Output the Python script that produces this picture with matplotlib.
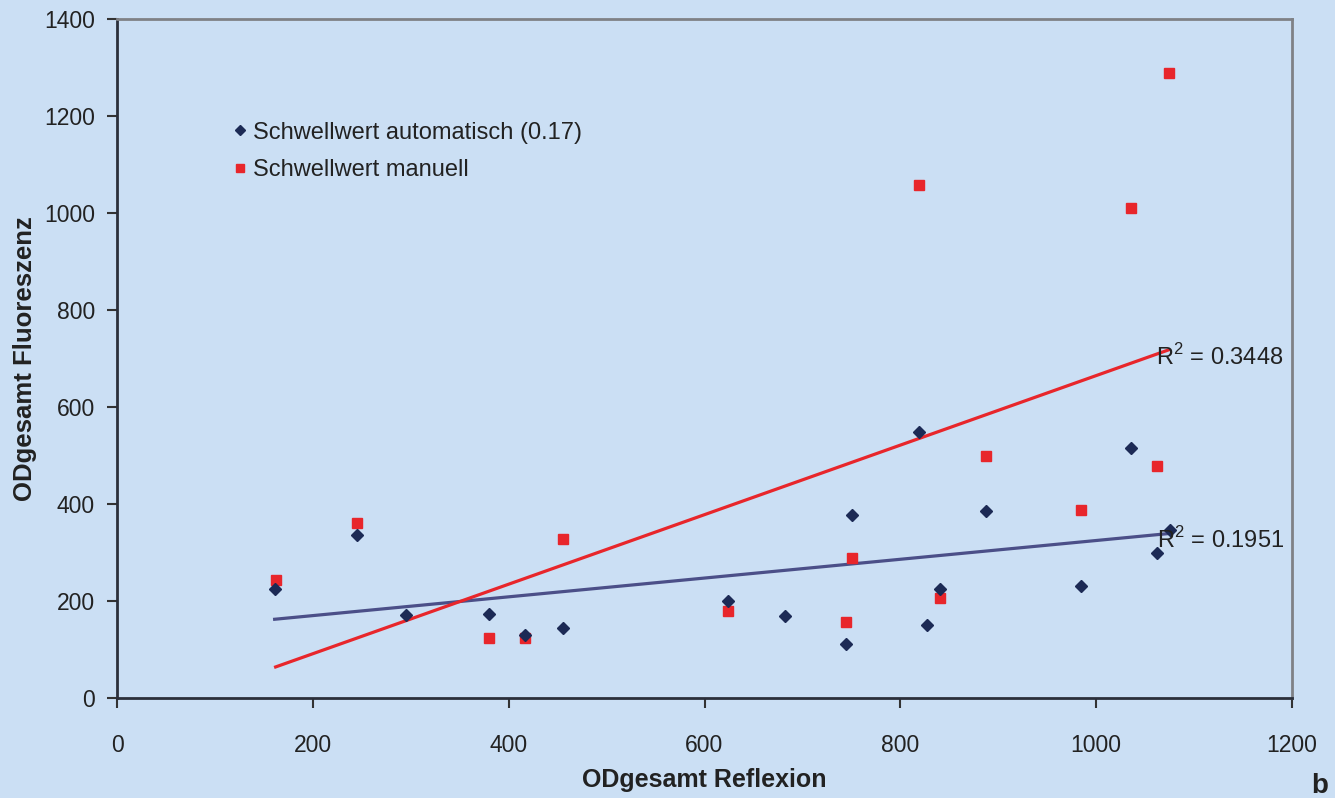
import numpy as np
import matplotlib
matplotlib.use("Agg")
import matplotlib.pyplot as plt

plt.rcParams['font.family'] = ['Liberation Sans', 'DejaVu Sans']
plt.rcParams['mathtext.fontset'] = 'custom'
plt.rcParams['mathtext.rm'] = 'Liberation Sans'

# Data
auto_x = [161, 245, 295, 380, 417, 455, 624, 682, 744, 751, 819, 827, 841, 887, 984, 1036, 1062, 1075]
auto_y = [225, 337, 171, 173, 130, 145, 200, 169, 112, 377, 548, 150, 224, 385, 231, 515, 300, 347]
man_x = [162, 245, 380, 417, 455, 624, 744, 751, 819, 841, 887, 984, 1036, 1062, 1074]
man_y = [243, 361, 124, 124, 328, 179, 156, 288, 1058, 206, 500, 387, 1010, 479, 1289]
r2_auto = "0.1951"
r2_man = "0.3448"
label_auto = "Schwellwert automatisch (0.17)"
label_man = "Schwellwert manuell"
x_ticks = [0, 200, 400, 600, 800, 1000, 1200]
y_ticks = [0, 200, 400, 600, 800, 1000, 1200, 1400]

bg = '#cbdff4'
navy = '#1c2a55'
red = '#e8262b'
line_blue = '#4b4f88'
txt = '#222222'

fig = plt.figure(figsize=(13.35, 7.98), dpi=100, facecolor=bg)
ax = fig.add_axes([117/1335, 1-698/798, (1292-117)/1335, (698-19)/798])
ax.set_facecolor(bg)

ax.plot(auto_x, auto_y, linestyle='none', marker='D', ms=6.3, color=navy, label=label_auto, zorder=4)
ax.plot(man_x, man_y, linestyle='none', marker='s', ms=7.5, color=red, label=label_man, zorder=3)

# linear trendlines
for xs, ys, c, r2 in [(auto_x, auto_y, line_blue, r2_auto), (man_x, man_y, red, r2_man)]:
    xs = np.array(xs, float); ys = np.array(ys, float)
    k, b = np.polyfit(xs, ys, 1)
    xl = np.array([xs.min(), xs.max()])
    ax.plot(xl, k*xl + b, color=c, lw=2.3, zorder=2)
    ax.text(xs.max() - 13, k*xs.max() + b - 14, "R$^2$ = " + r2, ha='left', va='center',
            fontsize=17, color=txt, zorder=5)

ax.set_xlim(0, 1200)
ax.set_ylim(0, 1400)
ax.set_xticks(x_ticks)
ax.set_yticks(y_ticks)
ax.tick_params(direction='out', length=7, width=1.5, color='#333333', labelsize=16.5,
               labelcolor=txt)
ax.tick_params(axis='x', pad=19)
ax.tick_params(axis='y', pad=9)
for s in ['left', 'bottom']:
    ax.spines[s].set_color('#2b2f3a'); ax.spines[s].set_linewidth(2)
for s in ['top', 'right']:
    ax.spines[s].set_color('#7f8186'); ax.spines[s].set_linewidth(2)

ax.set_xlabel("ODgesamt Reflexion", fontsize=18, fontweight='bold', color=txt, labelpad=8)
ax.set_ylabel("ODgesamt Fluoreszenz", fontsize=18.5, fontweight='bold', color=txt, labelpad=5)

leg = ax.legend(loc='upper left', bbox_to_anchor=(0.1, 0.849), frameon=False, fontsize=17,
                handlelength=0.5, handletextpad=0.3, labelspacing=0.65, markerscale=0.85,
                borderpad=0, borderaxespad=0)
for t in leg.get_texts():
    t.set_color(txt)

fig.text(1320/1335, 1-786/798, "b", fontsize=20, fontweight='bold', ha='center', va='center', color=txt)

fig.savefig("out.png", dpi=100, facecolor=bg)
